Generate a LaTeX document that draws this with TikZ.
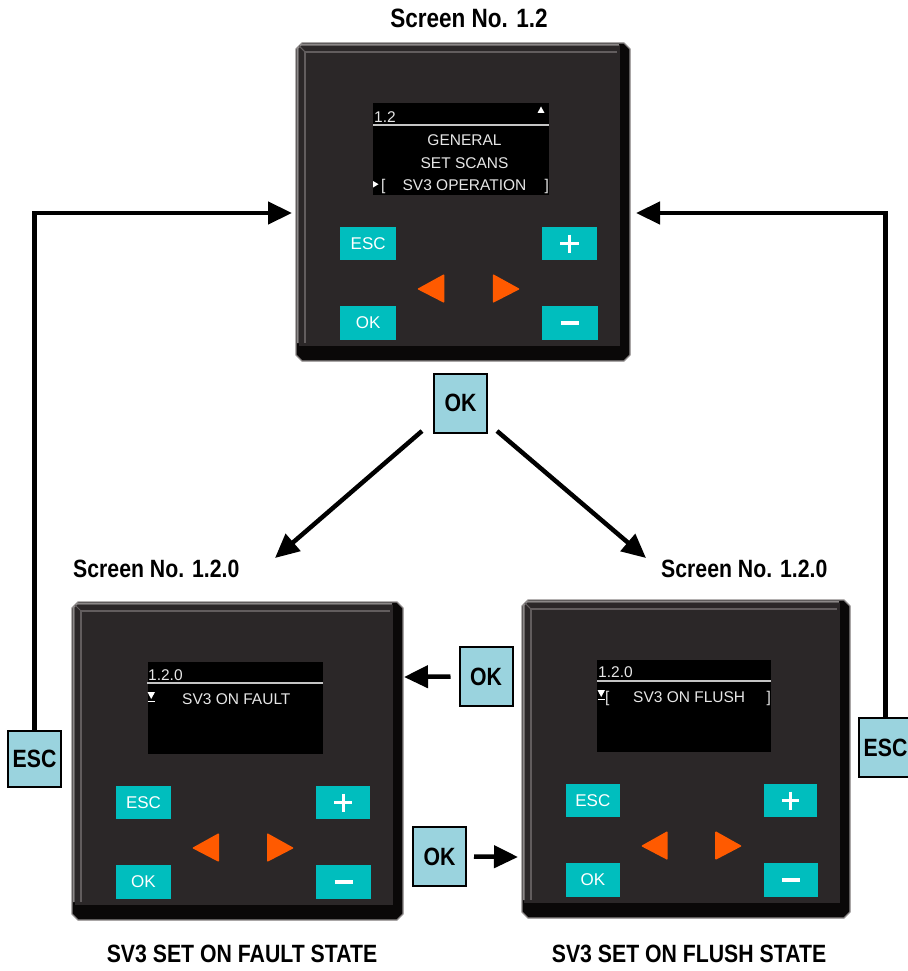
\documentclass[tikz,border=0pt]{standalone}
\usepackage{fontspec}
\setmainfont{Liberation Sans}
\newfontfamily\lblfont[FakeStretch=0.85]{Liberation Sans}
\usetikzlibrary{arrows.meta}
\definecolor{devbody}{HTML}{2B2728}
\definecolor{devedge}{HTML}{0A0808}
\definecolor{framegray}{HTML}{8C8888}
\definecolor{hilite}{HTML}{625D5E}
\definecolor{btncyan}{HTML}{00BEBE}
\definecolor{orangetri}{HTML}{FF5A00}
\definecolor{lblblue}{HTML}{9AD3DE}
\definecolor{scrtext}{HTML}{E6E6E6}
\tikzset{
  lblbox/.style={draw=black, line width=2pt, fill=lblblue, minimum width=53pt, minimum height=59pt, inner sep=0pt,
    font=\lblfont\bfseries\fontsize{25}{25}\selectfont},
  title/.style={inner sep=0pt, font=\lblfont\bfseries\fontsize{25}{25}\selectfont},
  scr/.style={inner sep=0pt, text=scrtext, font=\fontsize{15.5}{16}\selectfont},
  btnlbl/.style={inner sep=0pt, text=white, font=\fontsize{17}{17}\selectfont},
  conn/.style={line width=4.5pt, draw=black, -{Triangle[length=24pt,width=22pt]}},
}
\newcommand\drawdevice[4]{%
\begin{scope}[shift={(#2,#3)},xscale=#4/331]
\filldraw[fill=devedge, draw=framegray, line width=1.2pt] (0,6)--(6,0)--(325,0)--(331,6)--(331,312)--(325,318)--(6,318)--(0,312)--cycle;
\fill[devbody] (2.5,2.5) rectangle (321,303);
\draw[framegray, line width=1.5pt] (1.8,300)--(1.8,5)--(5,1.8)--(320,1.8);
\draw[hilite, line width=1.3pt] (9,300)--(9,9)--(318,9);
\draw[hilite, line width=1pt] (3,3)--(9,9);
\fill[black] (76,60) rectangle (251,152);
\fill[btncyan] (44,184) rectangle (99,217);
\fill[btncyan] (244,184) rectangle (298,217);
\fill[btncyan] (44,263) rectangle (99,297);
\fill[btncyan] (244,263) rectangle (299,297);
\fill[orangetri, rounded corners=1pt] (120,246)--(147,231)--(147,260)--cycle;
\fill[orangetri, rounded corners=1pt] (222,246)--(195,231)--(195,260)--cycle;
\node[btnlbl] at (71.5,200.5) {ESC};
\node[btnlbl] at (71.5,280) {OK};
\draw[white,line width=3pt] (262,200.5)--(280,200.5) (271,191.5)--(271,209.5);
\draw[white,line width=3.8pt] (262.5,280)--(280.5,280);
\node[inner sep=0pt, minimum width=331pt, minimum height=318pt, anchor=north west] (#1) at (0,0) {};
\end{scope}}
\begin{document}
\begin{tikzpicture}[x=1pt,y=-1pt]
\useasboundingbox (0,0) rectangle (907,971);
\fill[white] (0,0) rectangle (907,971);

% devices
\drawdevice{devtop}{296}{43}{334}
\drawdevice{devleft}{72}{602}{331}
\drawdevice{devright}{522}{600}{328}

% top screen
\node[scr, anchor=base west] (s1) at (374,122) {1.2};
\fill[white] (537.5,113)--(544.5,113)--(541,106.5)--cycle;
\draw[scrtext!85!black, line width=1.4pt] (373,125)--(549,125);
\node[scr, anchor=base] (s2) at (464.5,145) {GENERAL};
\node[scr, anchor=base] (s3) at (464.5,168) {SET SCANS};
\node[scr, anchor=base] (s4) at (464.5,190) {SV3 OPERATION};
\fill[white] (373,181)--(373,187.5)--(378.5,184.2)--cycle;
\node[scr, anchor=base west] (s5) at (381,190) {[};
\node[scr, anchor=base east] (s6) at (549,190) {]};

% left screen
\node[scr, anchor=base west] (l1) at (148,680) {1.2.0};
\draw[scrtext!85!black, line width=1.4pt] (147,683)--(323,683);
\fill[white] (147.5,692)--(155,692)--(151.2,699)--cycle;
\draw[white, line width=1pt] (147.5,701)--(155,701);
\node[scr, anchor=base west] (l2) at (182,704) {SV3 ON FAULT};

% right screen
\node[scr, anchor=base west] (r1) at (598,677) {1.2.0};
\draw[scrtext!85!black, line width=1.4pt] (597,681)--(771,681);
\fill[white] (597.5,690)--(605,690)--(601.2,697)--cycle;
\draw[white, line width=1pt] (597.5,699)--(605,699);
\node[scr, anchor=base west] (r2) at (605,702) {[};
\node[scr, anchor=base west] (r3) at (633,702) {SV3 ON FLUSH};
\node[scr, anchor=base east] (r4) at (771,702) {]};

% titles
\node[title, anchor=base] (ttop) at (469,28) {\fontsize{26.5}{26.5}\selectfont Screen No. 1.2};
\node[title, anchor=base west] (tl) at (73,577) {Screen No. 1.2.0};
\node[title, anchor=base west] (tr) at (661,577) {Screen No. 1.2.0};
\node[title, anchor=base] (bl) at (242,962) {SV3 SET ON FAULT STATE};
\node[title, anchor=base] (br) at (689,962) {SV3 SET ON FLUSH STATE};

% label boxes
\node[lblbox, minimum height=56pt] (escL) at (34.5,759) {ESC};
\node[lblbox] (escR) at (885.5,747.5) {ESC};
\node[lblbox] (okT) at (460.5,403) {OK};
\node[lblbox] (okM) at (486,676.5) {OK};
\node[lblbox] (okB) at (439.5,856.5) {OK};

% connector ends
\coordinate (inTL) at (292,213);
\coordinate (inTR) at (636,213);
\coordinate (dls) at (422,431);
\coordinate (dle) at (275,558);
\coordinate (drs) at (497,431);
\coordinate (dre) at (646,558);
\coordinate (ml) at (404,677);
\coordinate (br2) at (518,857);

\draw[conn] (escL.north) |- (inTL);
\draw[conn] (escR.north) |- (inTR);
\draw[conn] (dls) -- (dle);
\draw[conn] (drs) -- (dre);
\draw[conn] ([xshift=-8pt]okM.west) -- (ml);
\draw[conn] ([xshift=7pt]okB.east) -- (br2);
\end{tikzpicture}
\end{document}
